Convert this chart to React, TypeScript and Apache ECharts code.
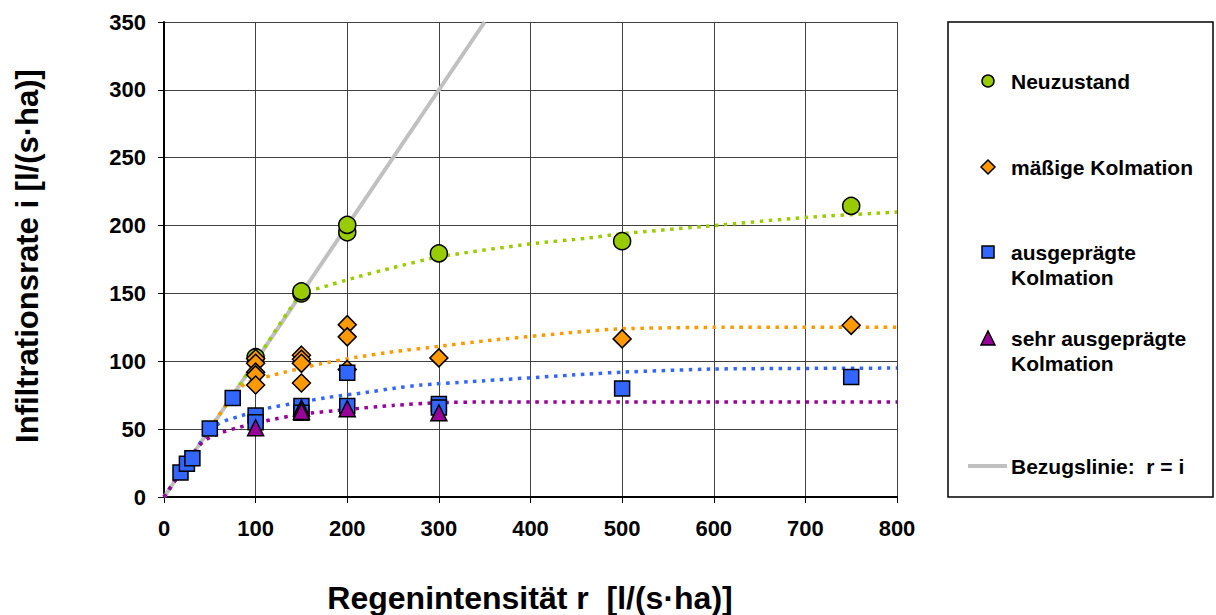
import React, { useEffect, useRef } from "react";
import * as echarts from "echarts";

const xTicks = [0, 100, 200, 300, 400, 500, 600, 700, 800];
const yTicks = [0, 50, 100, 150, 200, 250, 300, 350];

const seriesNames = ["Neuzustand", "mäßige Kolmation", "ausgeprägte Kolmation", "sehr ausgeprägte Kolmation"];
const refName = "Bezugslinie:  r = i";

const neuPoints = [[100, 103], [150, 150], [150, 151.5], [200, 195], [200, 200.5], [300, 179.5], [500, 188.5], [750, 214.5]];
const maessigPoints = [[100, 102], [100, 98.5], [100, 92], [100, 90], [100, 82.5], [150, 104.5], [150, 101.5], [150, 98.5], [150, 84], [200, 127], [200, 118], [200, 94], [300, 102.5], [500, 116.5], [750, 126.5]];
const ausgepPoints = [[18, 18], [25, 24.5], [31, 28.5], [50, 50.5], [75, 73], [100, 60], [100, 55], [150, 67], [150, 62], [200, 91.5], [200, 67], [300, 68.5], [300, 66], [500, 80], [750, 88.5]];
const sehrPoints = [[100, 51], [150, 65.5], [150, 63], [200, 65], [300, 62]];

const neuTrend = [[0, 0], [50, 50], [100, 100], [150, 150], [170, 154], [210, 162], [250, 169], [300, 177], [400, 186.5], [460, 190.6], [500, 194], [600, 200], [700, 206], [800, 210]];
const maessigTrend = [[0, 0], [25, 25], [50, 50], [75, 75], [90, 84], [120, 90], [170, 98], [210, 103], [250, 107], [300, 111], [350, 115], [450, 121.5], [500, 124], [600, 125], [800, 125]];
const ausgepTrend = [[0, 0], [25, 25], [50, 50], [60, 54], [70, 57], [80, 59], [110, 65], [150, 70], [180, 73.5], [220, 77], [250, 80], [280, 82.5], [335, 85], [460, 90.5], [500, 92], [600, 94.3], [800, 95]];
const sehrTrend = [[0, 0], [20, 20], [40, 39], [50, 44], [60, 47], [80, 51], [110, 56], [150, 61], [200, 64.5], [250, 67.5], [300, 69.5], [350, 70], [800, 70]];
const refLine = [[0, 0], [350, 350]];

const colors = ["#99cc00", "#ff9900", "#3366ff", "#990099"];

export default function App() {
  const ref = useRef<HTMLDivElement>(null);
  useEffect(() => {
    if (!ref.current) return;
    const chart = echarts.init(ref.current, null, { renderer: "svg" });
    const font = "Arial, 'Liberation Sans', sans-serif";
    const trend = (name: string, data: number[][], color: string) => ({
      type: "line",
      name,
      data,
      smooth: 0.2,
      showSymbol: false,
      symbol: "none",
      silent: true,
      lineStyle: { color, width: 3.5, type: [3.5, 5.5] },
      z: 3,
    });
    const scatter = (name: string, data: number[][], color: string, symbol: string, size: number) => ({
      type: "scatter",
      name,
      data,
      symbol,
      symbolSize: size,
      itemStyle: { color, borderColor: "#000", borderWidth: 1.5, opacity: 1 },
      z: 5,
    });
    const lx = 988;
    const tx = 1011;
    const textStyle = (t: string, y: number) => ({
      type: "text",
      x: tx,
      y,
      style: { text: t, font: `bold 21px ${font}`, fill: "#000", verticalAlign: "middle" },
    });
    chart.setOption({
      animation: false,
      backgroundColor: "#fff",
      grid: { left: 164, top: 22, right: 319, bottom: 118, containLabel: false },
      xAxis: {
        type: "value",
        min: 0,
        max: 800,
        interval: 100,
        axisLine: { show: true, onZero: false, lineStyle: { color: "#000", width: 2 } },
        axisTick: { show: true, length: 6, lineStyle: { color: "#000", width: 1 } },
        axisLabel: { color: "#000", fontSize: 22, fontWeight: "bold", fontFamily: font, margin: 20, formatter: (v: number) => (xTicks.includes(v) ? String(v) : "") },
        splitLine: { show: true, lineStyle: { color: "#404040", width: 1 } },
      },
      yAxis: {
        type: "value",
        min: 0,
        max: 350,
        interval: 50,
        axisLine: { show: true, onZero: false, lineStyle: { color: "#000", width: 2 } },
        axisTick: { show: true, length: 6, lineStyle: { color: "#000", width: 1 } },
        axisLabel: { color: "#000", fontSize: 22, fontWeight: "bold", fontFamily: font, margin: 18, formatter: (v: number) => (yTicks.includes(v) ? String(v) : "") },
        splitLine: { show: true, lineStyle: { color: "#404040", width: 1 } },
      },
      series: [
        {
          type: "line",
          name: refName,
          data: refLine,
          showSymbol: false,
          symbol: "none",
          silent: true,
          lineStyle: { color: "#c0c0c0", width: 4 },
          z: 2,
        },
        trend(seriesNames[0] + " Trend", neuTrend, colors[0]),
        trend(seriesNames[1] + " Trend", maessigTrend, colors[1]),
        trend(seriesNames[2] + " Trend", ausgepTrend, colors[2]),
        trend(seriesNames[3] + " Trend", sehrTrend, colors[3]),
        scatter(seriesNames[0], neuPoints, colors[0], "circle", 17),
        scatter(seriesNames[1], maessigPoints, colors[1], "diamond", 18),
        scatter(seriesNames[2], ausgepPoints, colors[2], "rect", 15),
        scatter(seriesNames[3], sehrPoints, colors[3], "triangle", 16),
      ],
      graphic: [
        {
          type: "text",
          x: 27,
          y: 256,
          rotation: Math.PI / 2,
          style: { text: "Infiltrationsrate i [l/(s·ha)]", font: `bold 31px ${font}`, fill: "#000", align: "center", verticalAlign: "middle" },
        },
        {
          type: "text",
          x: 530,
          y: 598,
          style: { text: "Regenintensität r  [l/(s·ha)]", font: `bold 32px ${font}`, fill: "#000", align: "center", verticalAlign: "middle" },
        },
        {
          type: "rect",
          shape: { x: 948, y: 22, width: 265, height: 475 },
          style: { fill: "#fff", stroke: "#000", lineWidth: 1.5 },
        },
        { type: "circle", shape: { cx: lx, cy: 81, r: 6 }, style: { fill: colors[0], stroke: "#000", lineWidth: 1.5 } },
        textStyle(seriesNames[0], 81),
        { type: "polygon", shape: { points: [[lx, 160], [lx + 7, 167], [lx, 174], [lx - 7, 167]] }, style: { fill: colors[1], stroke: "#000", lineWidth: 1.5 } },
        textStyle("mäßige Kolmation", 167),
        { type: "rect", shape: { x: lx - 6, y: 246, width: 12, height: 12 }, style: { fill: colors[2], stroke: "#000", lineWidth: 1.5 } },
        textStyle("ausgeprägte", 252),
        textStyle("Kolmation", 277),
        { type: "polygon", shape: { points: [[lx, 331], [lx + 7, 345], [lx - 7, 345]] }, style: { fill: colors[3], stroke: "#000", lineWidth: 1.5 } },
        textStyle("sehr ausgeprägte", 338),
        textStyle("Kolmation", 363),
        { type: "line", shape: { x1: 968, y1: 466, x2: 1007, y2: 466 }, style: { stroke: "#c0c0c0", lineWidth: 4 } },
        textStyle(refName, 466),
      ],
    });
    return () => chart.dispose();
  }, []);
  return <div ref={ref} style={{ width: 1216, height: 615, position: "absolute", left: 0, top: 0 }} />;
}
